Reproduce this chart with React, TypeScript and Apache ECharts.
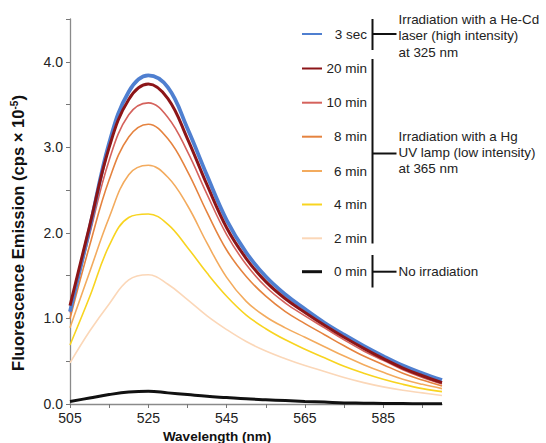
import React, { useEffect, useRef } from 'react';
import * as echarts from 'echarts';

// Wavelength (nm)
const wavelengths = [505, 510, 515, 520, 525, 530, 535, 540, 545, 550, 555, 560, 565, 570, 575, 580, 585, 590, 595, 600];

// Fluorescence emission (cps x 10^-5)
const sec3 = [1.08, 2.05, 3.05, 3.65, 3.84, 3.70, 3.22, 2.67, 2.15, 1.77, 1.49, 1.28, 1.11, 0.95, 0.81, 0.68, 0.56, 0.45, 0.36, 0.28];
const min20 = [1.15, 2.08, 3.0, 3.56, 3.74, 3.57, 3.10, 2.56, 2.06, 1.70, 1.43, 1.23, 1.07, 0.92, 0.78, 0.65, 0.53, 0.42, 0.33, 0.25];
const min10 = [1.07, 1.98, 2.85, 3.38, 3.52, 3.35, 2.95, 2.45, 1.98, 1.63, 1.37, 1.18, 1.03, 0.89, 0.75, 0.62, 0.51, 0.40, 0.31, 0.235];
const min8 = [1.0, 1.85, 2.62, 3.12, 3.27, 3.10, 2.72, 2.24, 1.80, 1.49, 1.26, 1.08, 0.94, 0.81, 0.68, 0.56, 0.46, 0.36, 0.28, 0.21];
const min6 = [0.89, 1.54, 2.18, 2.68, 2.79, 2.65, 2.32, 1.88, 1.48, 1.20, 1.02, 0.89, 0.78, 0.67, 0.56, 0.46, 0.37, 0.29, 0.23, 0.18];
const min4 = [0.69, 1.25, 1.85, 2.18, 2.22, 2.10, 1.83, 1.53, 1.26, 1.04, 0.88, 0.75, 0.64, 0.54, 0.44, 0.36, 0.29, 0.23, 0.18, 0.145];
const min2 = [0.48, 0.85, 1.17, 1.45, 1.51, 1.40, 1.22, 1.03, 0.87, 0.73, 0.62, 0.53, 0.45, 0.38, 0.31, 0.25, 0.20, 0.16, 0.13, 0.10];
const min0 = [0.03, 0.07, 0.11, 0.14, 0.15, 0.13, 0.11, 0.09, 0.075, 0.06, 0.05, 0.04, 0.03, 0.022, 0.013, 0.01, 0.006, 0.005, 0.003, 0.002];

const seriesNames = ['3 sec', '20 min', '10 min', '8 min', '6 min', '4 min', '2 min', '0 min'];
const seriesValues = [sec3, min20, min10, min8, min6, min4, min2, min0];

// Axis ticks / labels
const xTicks = [505, 515, 525, 535, 545, 555, 565, 575, 585, 595];
const xLabels = [505, 525, 545, 565, 585];
const yTicks = [0, 0.5, 1, 1.5, 2, 2.5, 3, 3.5, 4, 4.5];
const yLabels = [0, 1, 2, 3, 4];

// Annotation texts
const groupNotes = [
  ['Irradiation with a He-Cd', 'laser (high intensity)', 'at 325 nm'],
  ['Irradiation with a Hg', 'UV lamp (low intensity)', 'at 365 nm'],
  ['No irradiation'],
];

// Styles
const colors = ['#4f7fd0', '#8c1518', '#d5625c', '#e5833f', '#f3ab5e', '#f8d420', '#fbd7b8', '#111111'];
const widths = [3.8, 3, 1.6, 1.6, 1.6, 1.6, 1.6, 3];
const legendWidths = [2, 2, 2, 2, 2, 2, 2, 3];
const drawOrder = [6, 5, 4, 3, 2, 0, 1, 7];
const legendY = [34, 68.5, 102.7, 136.7, 171, 204.5, 238.3, 271.7];
const FONT = '"Liberation Sans", Arial, Helvetica, sans-serif';

export default function App() {
  const ref = useRef<HTMLDivElement>(null);
  useEffect(() => {
    if (!ref.current) return;
    document.body.style.margin = '0';
    const chart = echarts.init(ref.current, undefined, { renderer: 'svg' });

    const graphic: any[] = [];
    seriesNames.forEach((name, i) => {
      graphic.push({
        type: 'line',
        shape: { x1: 302, y1: legendY[i], x2: 322, y2: legendY[i] },
        style: { stroke: colors[i], lineWidth: legendWidths[i] },
      });
      graphic.push({
        type: 'text',
        x: 367,
        y: legendY[i],
        style: {
          text: name,
          align: 'right',
          textAlign: 'right',
          verticalAlign: 'middle',
          textVerticalAlign: 'middle',
          fontSize: 13.5,
          fontFamily: FONT,
          fill: '#222',
        },
      });
    });
    const bx = 372.5;
    const brackets = [
      { top: 19, bottom: 50, mid: 34 },
      { top: 59, bottom: 243.5, mid: 153.5 },
      { top: 255, bottom: 287.5, mid: 271.7 },
    ];
    const noteLineY = [
      [19, 35.5, 52],
      [136, 152, 168],
      [271.7],
    ];
    brackets.forEach((b, gi) => {
      graphic.push({
        type: 'line',
        shape: { x1: bx, y1: b.top, x2: bx, y2: b.bottom },
        style: { stroke: '#111', lineWidth: 2 },
      });
      graphic.push({
        type: 'line',
        shape: { x1: bx, y1: b.mid, x2: 396.5, y2: b.mid },
        style: { stroke: '#111', lineWidth: 2 },
      });
      groupNotes[gi].forEach((t, li) => {
        graphic.push({
          type: 'text',
          x: 398.5,
          y: noteLineY[gi][li],
          style: {
            text: t,
            align: 'left',
            textAlign: 'left',
            verticalAlign: 'middle',
            textVerticalAlign: 'middle',
            fontSize: 13.4,
            fontFamily: FONT,
            fill: '#222',
          },
        });
      });
    });

    const series = drawOrder.map((i) => ({
      name: seriesNames[i],
      type: 'line',
      data: wavelengths.map((w, k) => [w, seriesValues[i][k]]),
      showSymbol: false,
      smooth: 0.4,
      lineStyle: { color: colors[i], width: widths[i] },
      itemStyle: { color: colors[i] },
      z: 2,
    }));

    chart.setOption({
      animation: false,
      backgroundColor: '#fff',
      grid: { left: 70, right: 104, top: 19, bottom: 39, outerBoundsMode: 'none', containLabel: false },
      xAxis: {
        type: 'value',
        min: 505,
        max: 600,
        name: 'Wavelength (nm)',
        nameLocation: 'middle',
        nameGap: 22,
        nameTextStyle: {
          fontFamily: FONT,
          fontWeight: 'bold',
          fontSize: 13.5,
          color: '#111',
          padding: [0, 78, 0, 0],
        },
        splitLine: { show: false },
        axisLine: { lineStyle: { color: '#8a8a8a', width: 1.3 } },
        axisTick: { customValues: xTicks, length: 4, lineStyle: { color: '#777' } },
        axisLabel: {
          customValues: xLabels,
          fontFamily: FONT,
          fontSize: 14,
          color: '#222',
          margin: 7,
        },
      },
      yAxis: {
        type: 'value',
        min: 0,
        max: 4.5,
        name: '{a|Fluorescence Emission (cps × 10}{s|-5}{a|)}',
        nameLocation: 'middle',
        nameGap: 43,
        nameRotate: 90,
        nameTextStyle: {
          padding: [0, 43, 0, 0],
          rich: {
            a: { fontFamily: FONT, fontWeight: 'bold', fontSize: 16.6, color: '#111', lineHeight: 18 },
            s: { fontFamily: FONT, fontWeight: 'bold', fontSize: 10, color: '#111', verticalAlign: 'top', lineHeight: 18 },
          },
        },
        splitLine: { show: false },
        axisLine: { show: true, lineStyle: { color: '#8a8a8a', width: 1.3 } },
        axisTick: { show: true, customValues: yTicks, length: 4, lineStyle: { color: '#777' } },
        axisLabel: {
          customValues: yLabels,
          formatter: (v: number) => v.toFixed(1),
          fontFamily: FONT,
          fontSize: 14,
          color: '#222',
          margin: 7,
        },
      },
      series,
      graphic,
    });

    return () => chart.dispose();
  }, []);

  return <div ref={ref} style={{ width: 546, height: 443 }} />;
}
